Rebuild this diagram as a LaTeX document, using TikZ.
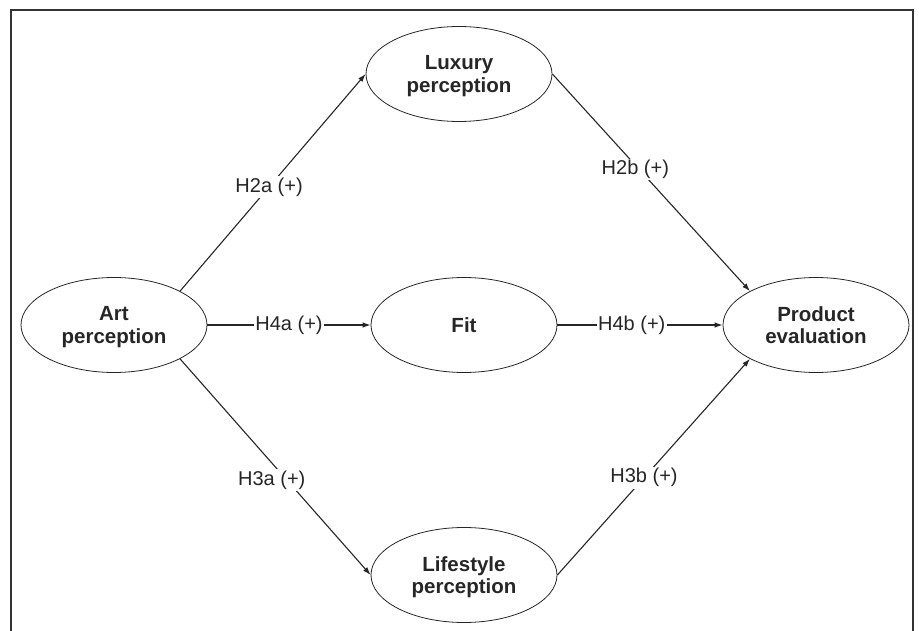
\documentclass[tikz,border=0pt]{standalone}
\usepackage{fontspec}
\setmainfont{Liberation Sans}
\usetikzlibrary{shapes.geometric,arrows.meta}
\begin{document}
\begin{tikzpicture}[x=1pt,y=-1pt,
  construct/.style={ellipse, draw=black!85, line width=0.8pt, minimum width=186pt, minimum height=95pt, inner sep=0pt,
    align=center, text depth=0pt, font=\fontsize{20.5pt}{22.5pt}\selectfont\bfseries, text=black!85},
  link/.style={draw=black!85, line width=1.1pt, -{Latex[length=8pt,width=5.5pt]}},
  hyp/.style={fill=white, inner sep=1.5pt, font=\fontsize{20pt}{22pt}\selectfont, text=black!85}]
\useasboundingbox (0,0) rectangle (919,631);
\draw[black!80, line width=1.8pt] (11,631) -- (11,10) -- (913,10) -- (913,631);
\node[construct] (art) at (114,325) {Art\\perception};
\node[construct] (lux) at (459,74) {Luxury\\perception};
\node[construct] (fit) at (464,325) {Fit};
\node[construct] (life) at (464,575) {Lifestyle\\perception};
\node[construct] (prod) at (816,325) {Product\\evaluation};
\draw[link] (art.north east) -- node[hyp, pos=0.48] {H2a (+)} (lux.west);
\draw[link] (lux.east) -- node[hyp, pos=0.44, xshift=-4pt] {H2b (+)} (prod.north west);
\draw[link] (art.east) -- node[hyp, pos=0.5] {H4a (+)} (fit.west);
\draw[link] (fit.east) -- node[hyp, pos=0.45] {H4b (+)} (prod.west);
\draw[link] (art.south east) -- node[hyp, pos=0.56, xshift=-15pt] {H3a (+)} (life.west);
\draw[link] (life.east) -- node[hyp, pos=0.45] {H3b (+)} (prod.south west);
\end{tikzpicture}
\end{document}
